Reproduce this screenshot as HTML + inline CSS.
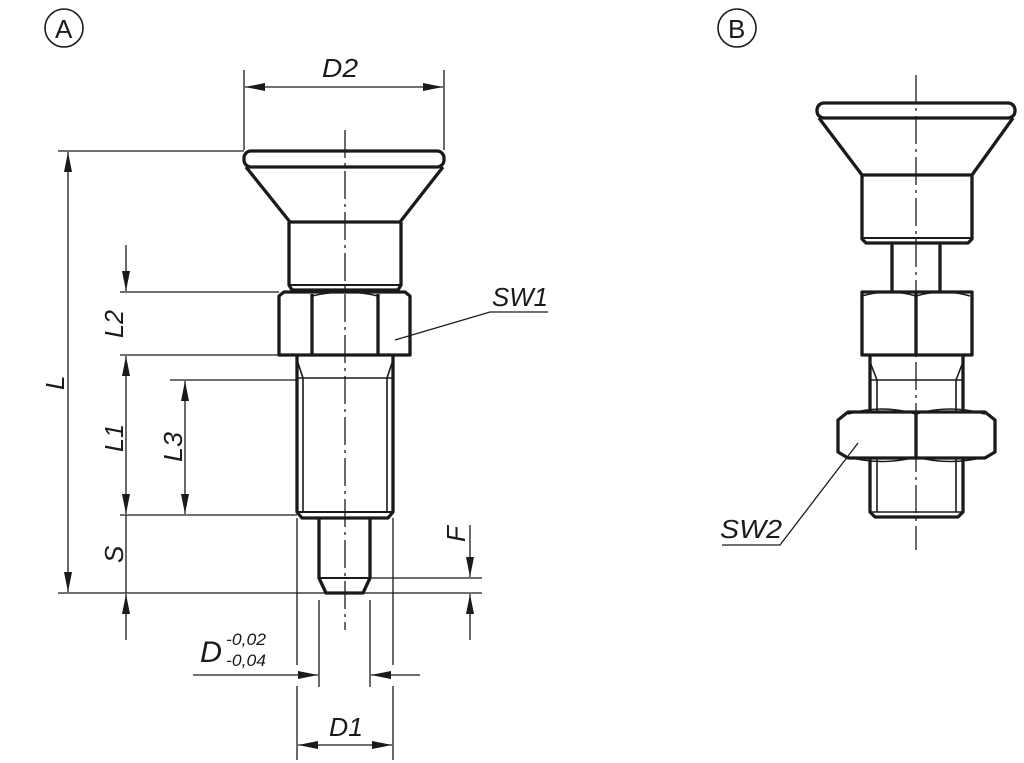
<!DOCTYPE html>
<html><head><style>
html,body{margin:0;padding:0;background:#fff;width:1024px;height:763px;overflow:hidden}
svg text{font-family:"Liberation Sans",sans-serif;font-style:italic;fill:#1a1a1a}
</style></head><body>
<svg width="1024" height="763" viewBox="0 0 1024 763" xmlns="http://www.w3.org/2000/svg">
<defs>
<marker id="ar" viewBox="0 0 20 8" refX="20" refY="4" markerWidth="20" markerHeight="8" markerUnits="userSpaceOnUse" orient="auto-start-reverse"><path d="M0,0 L20,4 L0,8 Z" fill="#1a1a1a"/></marker>
</defs>
<g fill="none" stroke="#1a1a1a">
<circle cx="64" cy="28" r="19" stroke-width="1.6"/>
<circle cx="737" cy="28" r="19" stroke-width="1.6"/>

<g stroke-width="3.3" stroke-linejoin="round">
<rect x="244" y="151" width="200" height="16" rx="7"/>
<path d="M246,167 L290,222 L400,222 L443,167"/>
<path d="M289,222 L289,285 L292,290 L398,290 L401,285 L401,222"/>
<path d="M289,285 L401,285" stroke-width="2"/>
<path d="M279,296 L284,292 L405,292 L410,296 L410,355 L279,355 Z"/>
<path d="M312,294 L312,355 M378,294 L378,355" />
<path d="M297,355 L297,512 L302,518 L388,518 L393,512 L393,355"/>
<path d="M297,512 L393,512" stroke-width="2"/>
<path d="M303,378 L303,512 M387,378 L387,512 M297,378 L393,378" stroke-width="1.6"/>
<path d="M303,378 L297,360 M387,378 L393,360" stroke-width="1.6"/>
<path d="M319,518 L319,578 L326,593 L363,593 L370,578 L370,518"/>
<path d="M319,578 L370,578" stroke-width="2"/>
</g>
<path d="M312,296 Q345,288 378,296" stroke-width="1.5"/>
<path d="M345,130 L345,630" stroke-width="1.3" stroke-dasharray="28,5,3,5"/>

<g stroke-width="1.3">
<path d="M244,70 L244,150 M444,70 L444,150"/>
<path d="M245,87 L443,87" marker-start="url(#ar)" marker-end="url(#ar)"/>
<path d="M58,151 L244,151 M58,593 L482,593"/>
<path d="M68,152 L68,592" marker-start="url(#ar)" marker-end="url(#ar)"/>
<path d="M120,292 L279,292 M120,355 L279,355 M120,515 L297,515 M170,380 L297,380"/>
<path d="M126,245 L126,291" marker-end="url(#ar)"/>
<path d="M126,356 L126,514" marker-start="url(#ar)" marker-end="url(#ar)"/>
<path d="M126,640 L126,594" marker-end="url(#ar)"/>
<path d="M126,515 L126,593"/>
<path d="M185,381 L185,514" marker-start="url(#ar)" marker-end="url(#ar)"/>
<path d="M363,578 L482,578"/>
<path d="M470,525 L470,577" marker-end="url(#ar)"/>
<path d="M470,640 L470,594" marker-end="url(#ar)"/>
<path d="M297,518 L297,665 M393,518 L393,665 M319,600 L319,687 M370,600 L370,687"/>
<path d="M297,686 L297,760 M393,686 L393,760"/>
<path d="M193,675 L318,675" marker-end="url(#ar)"/>
<path d="M420,675 L371,675" marker-end="url(#ar)"/>
<path d="M298,745 L392,745" marker-start="url(#ar)" marker-end="url(#ar)"/>
<path d="M395,340 L490,312 L548,312"/>
</g>

<g stroke-width="3.3" stroke-linejoin="round">
<rect x="817" y="103" width="198" height="15" rx="7"/>
<path d="M819,118 L862,175 L972,175 L1013,118"/>
<path d="M862,175 L862,239 L866,243 L968,243 L972,239 L972,175"/>
<path d="M862,238 L972,238" stroke-width="2"/>
<path d="M892,243 L892,291 M940,243 L940,291"/>
<path d="M862,292 L972,292 L972,355 L862,355 Z"/>
<path d="M916,292 L916,355"/>
<path d="M870,355 L870,512 L875,517 L958,517 L963,512 L963,355"/>
<path d="M877,380 L877,512 M956,380 L956,512 M870,380 L963,380 M870,512 L963,512" stroke-width="1.6"/>
<path d="M877,380 L870,362 M956,380 L963,362" stroke-width="1.6"/>
<path d="M838,420 L848,412 L985,412 L995,420 L995,452 L985,458 L848,458 L838,452 Z" fill="#fff"/>
<path d="M916,412 L916,458"/>
</g>
<path d="M848,414 Q882,404 916,414 Q950,404 985,414 M848,457 Q882,466 916,457 Q950,466 985,457 M862,296 Q889,288 916,296 Q943,288 970,296" stroke-width="1.5"/>
<path d="M916,75 L916,550" stroke-width="1.3" stroke-dasharray="28,5,3,5"/>
<path d="M858,443 L780,545 L722,545" stroke-width="1.3"/>
</g>

<text x="55" y="38" font-size="26" style="font-style:normal">A</text>
<text x="728" y="38" font-size="26" style="font-style:normal">B</text>
<text x="322" y="77" font-size="26" textLength="36" lengthAdjust="spacingAndGlyphs">D2</text>
<text x="492" y="306" font-size="26" textLength="56" lengthAdjust="spacingAndGlyphs">SW1</text>
<text x="720" y="538" font-size="26" textLength="62" lengthAdjust="spacingAndGlyphs">SW2</text>
<text transform="translate(64,390) rotate(-90)" font-size="26">L</text>
<text transform="translate(123,338) rotate(-90)" font-size="26" textLength="28" lengthAdjust="spacingAndGlyphs">L2</text>
<text transform="translate(123,452) rotate(-90)" font-size="26" textLength="28" lengthAdjust="spacingAndGlyphs">L1</text>
<text transform="translate(123,563) rotate(-90)" font-size="26">S</text>
<text transform="translate(182,462) rotate(-90)" font-size="26" textLength="30" lengthAdjust="spacingAndGlyphs">L3</text>
<text transform="translate(465,542) rotate(-90)" font-size="26">F</text>
<text x="200" y="662" font-size="30" textLength="22" lengthAdjust="spacingAndGlyphs">D</text>
<text x="226" y="645" font-size="17" textLength="40" lengthAdjust="spacingAndGlyphs">-0,02</text>
<text x="226" y="666" font-size="17" textLength="40" lengthAdjust="spacingAndGlyphs">-0,04</text>
<text x="329" y="736" font-size="26" textLength="34" lengthAdjust="spacingAndGlyphs">D1</text>
</svg>
</body></html>
